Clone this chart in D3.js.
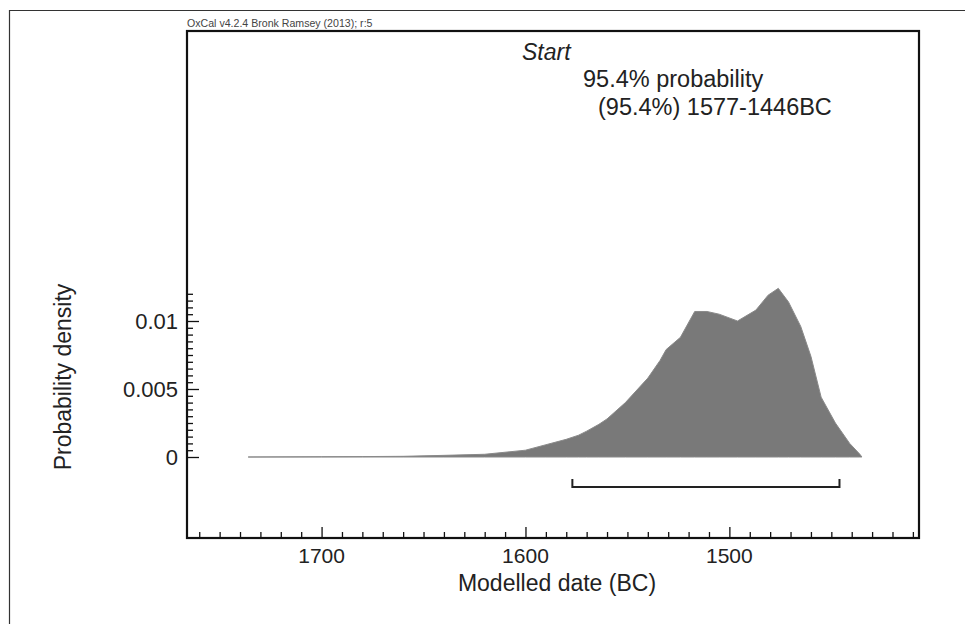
<!DOCTYPE html>
<html>
<head>
<meta charset="utf-8">
<script src="https://cdn.jsdelivr.net/npm/d3@7"></script>
<style>
  body { margin: 0; background: #fff; }
  svg { display: block; font-family: "Liberation Sans", Arial, sans-serif; }
</style>
</head>
<body>
<div id="chart"></div>
<script>
/* values */
const years = [1736, 1700, 1680, 1660, 1640, 1620, 1600, 1590, 1580, 1574, 1570, 1564, 1560, 1551, 1540, 1534, 1531, 1524, 1517, 1511, 1505, 1496, 1487, 1481, 1476, 1471, 1465, 1460, 1455, 1448, 1441, 1436, 1435];
const density = [0, 0.00002, 0.00003, 0.00005, 0.00012, 0.0002, 0.0005, 0.0009, 0.0013, 0.0016, 0.0019, 0.0024, 0.0028, 0.0040, 0.0058, 0.0071, 0.0079, 0.0088, 0.0107, 0.0107, 0.0105, 0.0100, 0.0108, 0.0119, 0.0124, 0.0114, 0.0096, 0.0074, 0.0044, 0.0025, 0.0010, 0.0002, 0];
const range95 = [1577, 1446];
const xTicks = [1700, 1600, 1500];
const yTicks = [0, 0.005, 0.01];
const yTickLabels = ["0", "0.005", "0.01"];

const W = 965, H = 624;
const plotL = 187, plotR = 919, plotT = 31, plotB = 538;

const svg = d3.select("#chart").append("svg")
  .attr("width", W)
  .attr("height", H);

const x = d3.scaleLinear().domain([1766, 1407]).range([plotL, plotR]);
const y = d3.scaleLinear().domain([0, 0.01]).range([457, 321]);

// outer page frame (partly visible)
svg.append("path")
  .attr("d", "M9.5," + H + "V10.5H" + W)
  .attr("fill", "none")
  .attr("stroke", "#333")
  .attr("stroke-width", 1.2);

svg.append("text")
  .text("OxCal v4.2.4 Bronk Ramsey (2013); r:5")
  .attr("x", plotL)
  .attr("y", 27)
  .attr("font-size", 10.6)
  .attr("fill", "#444");

// density area
const pts = years.map((yr, i) => [yr, density[i]]);
svg.append("path")
  .datum(pts)
  .attr("d", d3.area().x(d => x(d[0])).y0(y(0)).y1(d => y(d[1])))
  .attr("fill", "#797979")
  .attr("stroke", "#8a8a8a")
  .attr("stroke-width", 1);

// plot frame
svg.append("rect")
  .attr("x", plotL)
  .attr("y", plotT)
  .attr("width", plotR - plotL)
  .attr("height", plotB - plotT)
  .attr("fill", "none")
  .attr("stroke", "#111")
  .attr("stroke-width", 2.2);

// x axis: ticks point up into the frame
const xMinor = d3.range(1760, 1407, -10).filter(v => xTicks.indexOf(v) < 0);
const xAxis = svg.append("g").attr("transform", "translate(0," + plotB + ")");
xAxis.call(d3.axisTop(x).tickValues(xMinor).tickSize(6).tickFormat(""));
xAxis.append("g").call(d3.axisTop(x).tickValues(xTicks).tickSize(11).tickFormat(""));
xAxis.selectAll(".domain").remove();
xAxis.selectAll("line").attr("stroke", "#111").attr("stroke-width", 1.3);

svg.append("g").selectAll("text")
  .data(xTicks)
  .join("text")
  .text(d => d)
  .attr("x", d => x(d))
  .attr("y", 563)
  .attr("text-anchor", "middle")
  .attr("font-size", 21)
  .attr("fill", "#222");

svg.append("text")
  .text("Modelled date (BC)")
  .attr("x", 557)
  .attr("y", 591)
  .attr("text-anchor", "middle")
  .attr("font-size", 23)
  .attr("fill", "#222");

// y axis: ticks point right into the frame
const yMinor = d3.range(0, 0.01201, 0.0005).filter(v => Math.abs(v / 0.005 - Math.round(v / 0.005)) > 1e-6);
const yAxis = svg.append("g").attr("transform", "translate(" + plotL + ",0)");
yAxis.call(d3.axisRight(y).tickValues(yMinor).tickSize(6).tickFormat(""));
yAxis.append("g").call(d3.axisRight(y).tickValues(yTicks).tickSize(12).tickFormat(""));
yAxis.selectAll(".domain").remove();
yAxis.selectAll("line").attr("stroke", "#111").attr("stroke-width", 1.3);

svg.append("g").selectAll("text")
  .data(yTicks)
  .join("text")
  .text((d, i) => yTickLabels[i])
  .attr("x", 178)
  .attr("y", d => y(d) + 8)
  .attr("text-anchor", "end")
  .attr("font-size", 22)
  .attr("fill", "#222");

svg.append("text")
  .text("Probability density")
  .attr("transform", "translate(71,377) rotate(-90)")
  .attr("text-anchor", "middle")
  .attr("font-size", 23)
  .attr("fill", "#222");

// 95.4% range bracket
const by = 487;
svg.append("path")
  .attr("d", "M" + x(range95[0]) + "," + (by - 8) + "V" + by + "H" + x(range95[1]) + "V" + (by - 8))
  .attr("fill", "none")
  .attr("stroke", "#222")
  .attr("stroke-width", 2);

// labels
svg.append("text")
  .text("Start")
  .attr("x", 522)
  .attr("y", 60)
  .attr("font-size", 23)
  .attr("font-style", "italic")
  .attr("fill", "#222");

svg.append("text")
  .text("95.4% probability")
  .attr("x", 583)
  .attr("y", 87)
  .attr("font-size", 23.5)
  .attr("fill", "#222");

svg.append("text")
  .text("(95.4%) 1577-1446BC")
  .attr("x", 598)
  .attr("y", 115)
  .attr("font-size", 23.5)
  .attr("fill", "#222");
</script>
</body>
</html>
